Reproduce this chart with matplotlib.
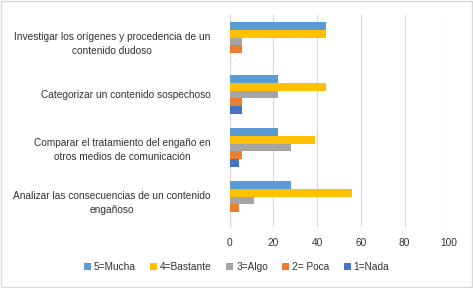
import matplotlib.pyplot as plt
import numpy as np

plt.rcParams['font.family'] = ['Liberation Sans', 'DejaVu Sans']

categories = [
    "Investigar los orígenes y procedencia de un\ncontenido dudoso",
    "Categorizar un contenido sospechoso",
    "Comparar el tratamiento del engaño en\notros medios de comunicación",
    "Analizar las consecuencias de un contenido\nengañoso",
]
series_names = ["5=Mucha", "4=Bastante", "3=Algo", "2= Poca", "1=Nada"]
mucha = [44, 22, 22, 28]
bastante = [44, 44, 39, 56]
algo = [5.6, 22, 28, 11]
poca = [5.6, 5.6, 5.6, 4.3]
nada = [0, 5.6, 4.3, 0]
colors = ["#5B9BD5", "#FFC000", "#A5A5A5", "#ED7D31", "#4472C4"]

values = [mucha, bastante, algo, poca, nada]

fig = plt.figure(figsize=(4.73, 2.88), dpi=100)
ax = fig.add_axes([0.4857, 0.212, 0.948 - 0.4857, 0.948 - 0.212])

n = len(series_names)
bar_h = 0.149
y = np.arange(len(categories))
for k, (name, vals, c) in enumerate(zip(series_names, values, colors)):
    offset = (k - (n - 1) / 2) * bar_h
    ax.barh(y + offset, vals, height=bar_h, color=c, label=name, zorder=3)

ax.set_ylim(len(categories) - 0.5, -0.5)
ax.set_xlim(0, 100)
ax.set_xticks([0, 20, 40, 60, 80, 100])
ax.set_yticks(y)
ax.set_yticklabels(categories)
for t in ax.get_yticklabels():
    t.set_multialignment('center')
    t.set_linespacing(1.45)
ax.tick_params(axis='both', length=0, labelsize=7.3, colors='#333333', pad=8)
ax.tick_params(axis='y', pad=14)
ax.grid(axis='x', color='#D9D9D9', linewidth=0.9, zorder=0)
for s in ['top', 'right', 'bottom']:
    ax.spines[s].set_visible(False)
ax.spines['left'].set_color('#D9D9D9')

fig.legend(loc='center', bbox_to_anchor=(0.5, 0.072), ncol=5, frameon=False,
           fontsize=7.3, handlelength=0.7, handleheight=0.7, columnspacing=1.4,
           handletextpad=0.3, labelcolor='#333333')

fig.patches.append(plt.Rectangle((0.002, 0.003), 0.995, 0.993, transform=fig.transFigure,
                                 fill=False, edgecolor='#D9D9D9', linewidth=1))

fig.savefig("out.png", dpi=100)
